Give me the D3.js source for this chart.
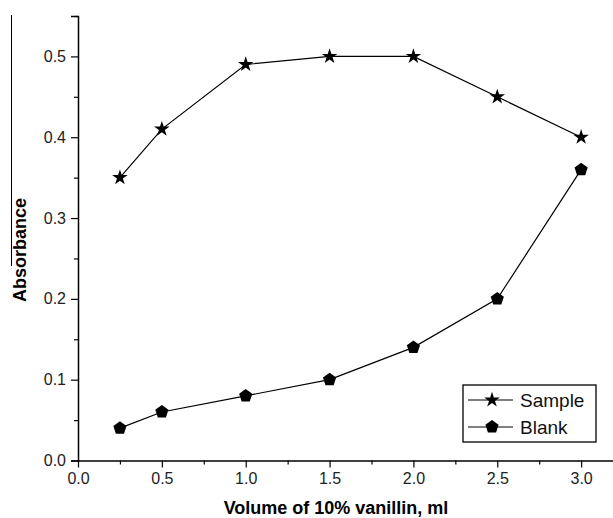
<!DOCTYPE html>
<html>
<head>
<meta charset="utf-8">
<script src="https://cdn.jsdelivr.net/npm/d3@7"></script>
<style>
  body { margin: 0; background: #fff; }
  text { font-family: "Liberation Sans", Arial, sans-serif; }
</style>
</head>
<body>
<div id="chart"></div>
<script>
// data
const volumes = [0.25, 0.5, 1.0, 1.5, 2.0, 2.5, 3.0]
const sample = [0.35, 0.41, 0.49, 0.50, 0.50, 0.45, 0.40]
const blank = [0.04, 0.06, 0.08, 0.10, 0.14, 0.20, 0.36]
const xTicks = [0, 0.5, 1.0, 1.5, 2.0, 2.5, 3.0]
const yTicks = [0, 0.1, 0.2, 0.3, 0.4, 0.5]

const W = 613, H = 518
const margin = { top: 16, right: 0, bottom: 57.5, left: 78 }
const width = W - margin.left - margin.right
const height = H - margin.top - margin.bottom

const svg = d3.select("#chart").append("svg")
    .attr("width", W)
    .attr("height", H)

// stray scan line on the left edge
svg.append("line")
    .attr("x1", 11.5).attr("x2", 11.5)
    .attr("y1", 15).attr("y2", 266)
    .style("stroke", "#000").style("stroke-width", 1)

const g = svg.append("g")
    .attr("transform", "translate(" + margin.left + "," + margin.top + ")")

const x = d3.scaleLinear().domain([0, 3.19]).range([0, width])
const y = d3.scaleLinear().domain([0, 0.55]).range([height, 0])

// minor ticks
g.append("g")
    .attr("transform", "translate(0," + height + ")")
    .call(d3.axisBottom(x).tickValues(d3.range(0.25, 3.1, 0.5)).tickSize(4).tickFormat(""))
    .call(a => a.select(".domain").remove())
g.append("g")
    .call(d3.axisLeft(y).tickValues(d3.range(0.05, 0.56, 0.1)).tickSize(4).tickFormat(""))
    .call(a => a.select(".domain").remove())

// major axes
g.append("g")
    .attr("transform", "translate(0," + height + ")")
    .call(d3.axisBottom(x).tickValues(xTicks).tickSize(7).tickSizeOuter(0).tickPadding(5).tickFormat(d3.format(".1f")))
    .call(a => a.selectAll("text").attr("font-size", 16).style("fill", "#222"))
    .call(a => a.select(".domain").style("stroke-width", 1.5))

g.append("g")
    .call(d3.axisLeft(y).tickValues(yTicks).tickSize(7).tickSizeOuter(7).tickPadding(5).tickFormat(d3.format(".1f")))
    .call(a => a.selectAll("text").attr("font-size", 16).style("fill", "#222"))
    .call(a => a.select(".domain").style("stroke-width", 1.5))

g.selectAll(".tick line").style("stroke-width", 1.2)

const line = d3.line().x(d => x(d[0])).y(d => y(d[1]))
const sampleData = volumes.map((v, i) => [v, sample[i]])
const blankData = volumes.map((v, i) => [v, blank[i]])

const star = d3.symbol().type(d3.symbolStar).size(75)
const pent = d3.symbol().type({
  draw(ctx, size) {
    const r = Math.sqrt(size / 2.4)
    for (let i = 0; i < 5; i++) {
      const a = -Math.PI / 2 + i * 2 * Math.PI / 5
      const px = r * Math.cos(a), py = r * Math.sin(a)
      if (i === 0) ctx.moveTo(px, py); else ctx.lineTo(px, py)
    }
    ctx.closePath()
  }
}).size(115)

g.append("path").datum(sampleData).attr("d", line)
    .style("fill", "none").style("stroke", "#000").style("stroke-width", 1.2)
g.append("path").datum(blankData).attr("d", line)
    .style("fill", "none").style("stroke", "#000").style("stroke-width", 1.2)

g.selectAll(".star").data(sampleData).enter().append("path")
    .attr("transform", d => "translate(" + x(d[0]) + "," + y(d[1]) + ")")
    .attr("d", star).style("fill", "#000")
g.selectAll(".pent").data(blankData).enter().append("path")
    .attr("transform", d => "translate(" + x(d[0]) + "," + y(d[1]) + ")")
    .attr("d", pent).style("fill", "#000")

// legend
const lg = svg.append("g").attr("transform", "translate(463,385)")
lg.append("rect").attr("width", 133).attr("height", 57)
    .style("fill", "#fff").style("stroke", "#000").style("stroke-width", 1.3)
const items = [["Sample", star], ["Blank", pent]]
items.forEach((it, i) => {
  const yy = 15 + i * 27
  lg.append("line").attr("x1", 5).attr("x2", 50).attr("y1", yy).attr("y2", yy)
      .style("stroke", "#000").style("stroke-width", 1.2)
  lg.append("path").attr("transform", "translate(29," + yy + ")").attr("d", it[1]).style("fill", "#000")
  lg.append("text").text(it[0]).attr("x", 57).attr("y", yy + 7)
      .style("font-size", "19px").style("fill", "#111")
})

// axis titles
svg.append("text")
    .text("Volume of 10% vanillin, ml")
    .attr("x", 336).attr("y", 514)
    .style("text-anchor", "middle")
    .style("font-size", "18px").style("font-weight", "bold")

svg.append("text")
    .text("Absorbance")
    .attr("transform", "translate(26,250) rotate(-90)")
    .style("text-anchor", "middle")
    .style("font-size", "18px").style("font-weight", "bold")
</script>
</body>
</html>
